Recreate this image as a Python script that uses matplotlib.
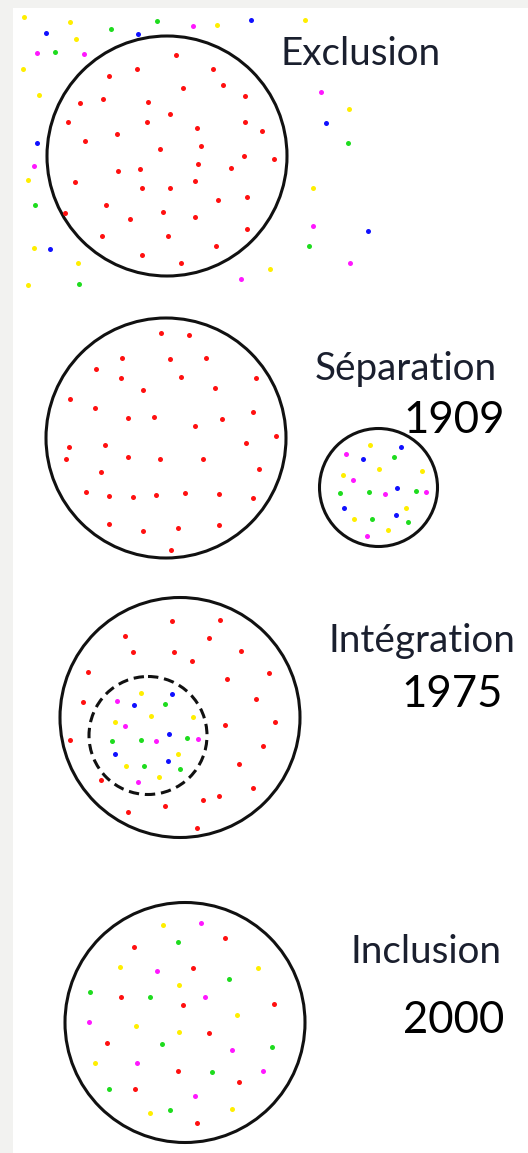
import matplotlib
matplotlib.use('Agg')
import matplotlib.pyplot as plt
from matplotlib.patches import Circle, Rectangle

# Dot positions (pixels, y down)
excl_out_yellow = [(24, 17), (70, 22), (76, 39), (217, 25), (23, 69), (39, 95), (28, 180),
                   (34, 248), (78, 263), (28, 285), (305, 20), (349, 109), (313, 188), (270, 269)]
excl_out_blue = [(46, 33), (138, 34), (251, 20), (37, 143), (50, 249), (326, 123), (368, 231)]
excl_out_green = [(111, 29), (157, 21), (55, 52), (35, 205), (79, 284), (348, 143), (309, 246)]
excl_out_magenta = [(193, 26), (37, 53), (84, 54), (34, 166), (241, 279), (321, 92), (313, 226), (350, 263)]
excl_red = [(176, 55), (137, 69), (213, 69), (109, 76), (223, 85), (183, 88), (103, 99), (80, 103),
            (148, 102), (245, 96), (170, 114), (68, 122), (147, 122), (245, 122), (197, 128), (262, 131),
            (117, 134), (85, 141), (201, 146), (160, 149), (244, 156), (274, 159), (198, 164), (231, 168),
            (118, 171), (140, 169), (75, 182), (195, 181), (142, 188), (170, 188), (218, 200), (247, 197),
            (106, 205), (65, 213), (163, 212), (130, 219), (195, 217), (247, 229), (102, 236), (168, 236),
            (216, 246), (142, 255), (181, 263)]

sep_red = [(161, 333), (189, 335), (122, 358), (170, 359), (206, 358), (96, 369), (121, 378), (181, 377),
           (256, 378), (215, 388), (143, 390), (70, 399), (95, 408), (128, 418), (154, 417), (222, 419),
           (253, 412), (195, 426), (246, 443), (276, 436), (69, 447), (105, 445), (66, 459), (128, 457),
           (160, 459), (203, 459), (259, 469), (101, 472), (86, 492), (109, 496), (133, 497), (156, 495),
           (185, 493), (219, 494), (253, 498), (109, 524), (143, 531), (178, 528), (219, 525), (171, 550)]
sep_yellow = [(370, 445), (379, 469), (422, 471), (343, 475), (406, 508), (354, 519), (388, 530)]
sep_blue = [(401, 447), (363, 459), (397, 488), (344, 508), (396, 515)]
sep_green = [(394, 457), (340, 493), (369, 492), (416, 491), (372, 519), (408, 522)]
sep_magenta = [(346, 454), (353, 480), (385, 494), (426, 492), (367, 536)]

integ_red = [(172, 621), (220, 620), (125, 636), (209, 638), (133, 652), (174, 652), (241, 651),
             (192, 661), (88, 672), (227, 679), (83, 702), (256, 699), (225, 725), (70, 740), (263, 746),
             (269, 673), (275, 722), (239, 764), (101, 780), (253, 788), (219, 796), (203, 800),
             (165, 806), (128, 812), (197, 828)]
integ_yellow = [(141, 693), (151, 716), (193, 717), (115, 722), (178, 754), (126, 766), (159, 777)]
integ_blue = [(172, 694), (134, 705), (169, 734), (115, 754), (168, 761)]
integ_green = [(165, 704), (112, 741), (141, 740), (187, 738), (144, 766), (180, 769)]
integ_magenta = [(117, 701), (125, 726), (156, 741), (198, 739), (138, 782)]

incl_red = [(225, 938), (134, 947), (193, 968), (121, 997), (183, 1005), (209, 1033), (107, 1043),
            (178, 1071), (239, 1082), (135, 1089), (197, 1123), (274, 1004)]
incl_yellow = [(163, 925), (120, 967), (258, 968), (179, 985), (237, 1015), (136, 1026), (179, 1032),
               (95, 1063), (232, 1109), (150, 1113)]
incl_green = [(178, 942), (229, 979), (90, 992), (150, 997), (162, 1044), (212, 1072), (109, 1089),
              (170, 1110), (272, 1047)]
incl_magenta = [(201, 923), (157, 971), (205, 997), (89, 1022), (232, 1050), (137, 1063), (263, 1071),
                (195, 1096)]

labels = ['Exclusion', 'Séparation', 'Intégration', 'Inclusion']
label_pos = [(280, 65), (315, 380), (329, 652), (351, 963)]
years = ['1909', '1975', '2000']
year_pos = [(505, 433), (503, 707), (504, 1033)]

colors = {'red': '#ff1010', 'yellow': '#ffee00', 'blue': '#1010ff',
          'green': '#1edc1e', 'magenta': '#ff18ff'}

fig = plt.figure(figsize=(5.28, 11.53), dpi=100, facecolor='#f2f2f0')
ax = fig.add_axes([0, 0, 1, 1])
ax.set_xlim(0, 528)
ax.set_ylim(1153, 0)
ax.axis('off')
ax.add_patch(Rectangle((13, 8), 520, 1150, facecolor='white', edgecolor='none', zorder=0))

# circles
for cx, cy, r in [(167, 156, 120), (166, 438, 120), (378.5, 487.5, 59), (180, 717.5, 120), (185, 1022.5, 120)]:
    ax.add_patch(Circle((cx, cy), r, fill=False, edgecolor='#111111', lw=2.2, zorder=2))
ax.add_patch(Circle((148, 735.5), 59, fill=False, edgecolor='#111111', lw=2.2,
                    linestyle=(0, (3.4, 1.9)), zorder=2))

groups = [
    (excl_out_yellow, 'yellow'), (excl_out_blue, 'blue'), (excl_out_green, 'green'),
    (excl_out_magenta, 'magenta'), (excl_red, 'red'),
    (sep_red, 'red'), (sep_yellow, 'yellow'), (sep_blue, 'blue'), (sep_green, 'green'),
    (sep_magenta, 'magenta'),
    (integ_red, 'red'), (integ_yellow, 'yellow'), (integ_blue, 'blue'), (integ_green, 'green'),
    (integ_magenta, 'magenta'),
    (incl_red, 'red'), (incl_yellow, 'yellow'), (incl_green, 'green'), (incl_magenta, 'magenta'),
]
for pts, c in groups:
    xs = [p[0] for p in pts]
    ys = [p[1] for p in pts]
    ax.plot(xs, ys, 'o', ms=3.6, color=colors[c], mec='none', zorder=3)

for txt, (x, y) in zip(labels, label_pos):
    ax.text(x, y, txt, ha='left', va='baseline', fontsize=27.8, family='Lato', color='#1a1f2e')
for txt, (x, y) in zip(years, year_pos):
    ax.text(x, y, txt, ha='right', va='baseline', fontsize=31.5, family='Lato', color='black')

fig.savefig('out.png', dpi=100, facecolor=fig.get_facecolor())
